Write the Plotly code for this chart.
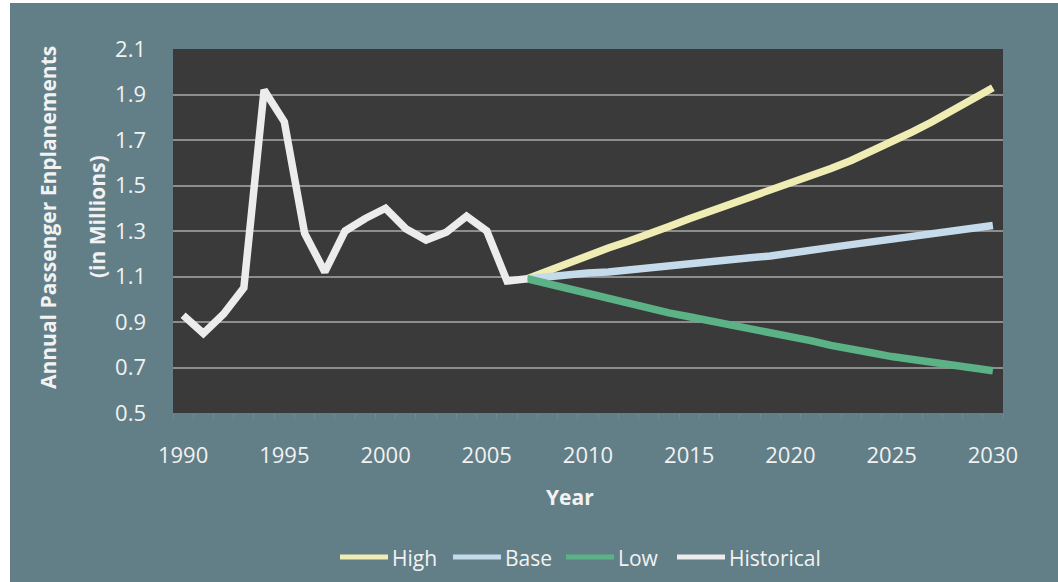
import plotly.graph_objects as go

# Historical enplanements (millions)
hist_years = list(range(1990, 2008))
hist_vals = [0.93, 0.85, 0.935, 1.05, 1.92, 1.78, 1.29, 1.12, 1.30, 1.355, 1.40,
             1.31, 1.26, 1.295, 1.365, 1.30, 1.08, 1.09]

# Forecast scenarios (millions)
proj_years = list(range(2007, 2031))
high_vals = [1.09, 1.125, 1.16, 1.195, 1.225, 1.255, 1.285, 1.32, 1.354, 1.385,
             1.415, 1.445, 1.475, 1.51, 1.545, 1.575, 1.61, 1.65, 1.69, 1.735,
             1.78, 1.83, 1.88, 1.93]
base_vals = [1.09, 1.10, 1.105, 1.115, 1.12, 1.13, 1.14, 1.145, 1.155, 1.165,
             1.175, 1.182, 1.19, 1.205, 1.215, 1.228, 1.24, 1.252, 1.265, 1.275,
             1.287, 1.298, 1.31, 1.324]
low_vals = [1.09, 1.068, 1.045, 1.022, 1.0, 0.978, 0.957, 0.94, 0.923, 0.906,
            0.89, 0.873, 0.857, 0.84, 0.818, 0.797, 0.785, 0.765, 0.748, 0.735,
            0.72, 0.71, 0.698, 0.686]

y_ticks = [0.5, 0.7, 0.9, 1.1, 1.3, 1.5, 1.7, 1.9, 2.1]
x_ticks = [1990, 1995, 2000, 2005, 2010, 2015, 2020, 2025, 2030]

FONT = "Open Sans"
TEXT = "#f2f2f2"
PAPER = "#627f88"
PLOT = "#393a39"

L, R, T, B = 173, 55, 49, 169
W, H = 1058, 582
pw, ph = W - L - R, H - T - B


def px(x):
    return (x - L) / pw


def py(y):
    return (H - B - y) / ph


series = [
    ("High", proj_years, high_vals, "#efedb3"),
    ("Base", proj_years, base_vals, "#c5dbeb"),
    ("Low", proj_years, low_vals, "#5bb287"),
    ("Historical", hist_years, hist_vals, "#ececec"),
]

fig = go.Figure()
for name, xs, ys, col in series:
    fig.add_trace(go.Scatter(
        x=xs, y=ys, name=name, mode="lines",
        line=dict(color=col, width=7.5), showlegend=False,
    ))

# Legend row below the axis: swatch line + label per series
legend_line_x = [340, 453, 566, 677]
legend_y = 557
shapes = [
    # white page margin on the left and top edges
    dict(type="rect", xref="paper", yref="paper", x0=px(-20), x1=px(10),
         y0=py(600), y1=py(-20), fillcolor="white", line=dict(width=0),
         layer="below"),
    dict(type="rect", xref="paper", yref="paper", x0=px(-20), x1=px(1080),
         y0=py(3), y1=py(-20), fillcolor="white", line=dict(width=0),
         layer="below"),
]
annotations = [
    dict(text="<b>Annual Passenger Enplanements</b>", xref="paper", yref="paper",
         x=px(48), y=py(217), textangle=-90, showarrow=False,
         xanchor="center", yanchor="middle", font=dict(size=21, color=TEXT)),
    dict(text="<b>(in Millions)</b>", xref="paper", yref="paper",
         x=px(97), y=py(217), textangle=-90, showarrow=False,
         xanchor="center", yanchor="middle", font=dict(size=21, color=TEXT)),
    dict(text="<b>Year</b>", xref="paper", yref="paper",
         x=px(570), y=py(497), showarrow=False,
         xanchor="center", yanchor="middle", font=dict(size=21, color=TEXT)),
]
for (name, _, _, col), lx in zip(series, legend_line_x):
    shapes.append(dict(type="line", xref="paper", yref="paper",
                       x0=px(lx), x1=px(lx + 48), y0=py(legend_y), y1=py(legend_y),
                       line=dict(color=col, width=5)))
    annotations.append(dict(text=name, xref="paper", yref="paper",
                            x=px(lx + 50), y=py(legend_y + 1), showarrow=False,
                            xanchor="left", yanchor="middle",
                            font=dict(size=21, color=TEXT)))

fig.update_layout(
    width=W, height=H,
    margin=dict(l=L, r=R, t=T, b=B, autoexpand=False),
    paper_bgcolor=PAPER,
    plot_bgcolor=PLOT,
    font=dict(family=FONT, color=TEXT, size=22),
    showlegend=False,
    xaxis=dict(
        range=[1989.5, 2030.5], tickvals=x_ticks, showgrid=False, zeroline=False,
        showline=False, ticks="", ticklabelstandoff=27,
        tickfont=dict(size=22, color=TEXT),
        minor=dict(ticks="outside", dtick=1, tick0=1989.5, ticklen=5,
                   tickcolor="rgba(220,220,220,0.12)", showgrid=False),
    ),
    yaxis=dict(
        range=[0.5, 2.1], tickvals=y_ticks, tickformat=".1f",
        showgrid=True, gridcolor="#8d8d8d", gridwidth=1.5, zeroline=False,
        showline=False, ticks="", ticklabelstandoff=26,
        tickfont=dict(size=22, color=TEXT),
    ),
    shapes=shapes,
    annotations=annotations,
)

fig.write_html("out.html")
